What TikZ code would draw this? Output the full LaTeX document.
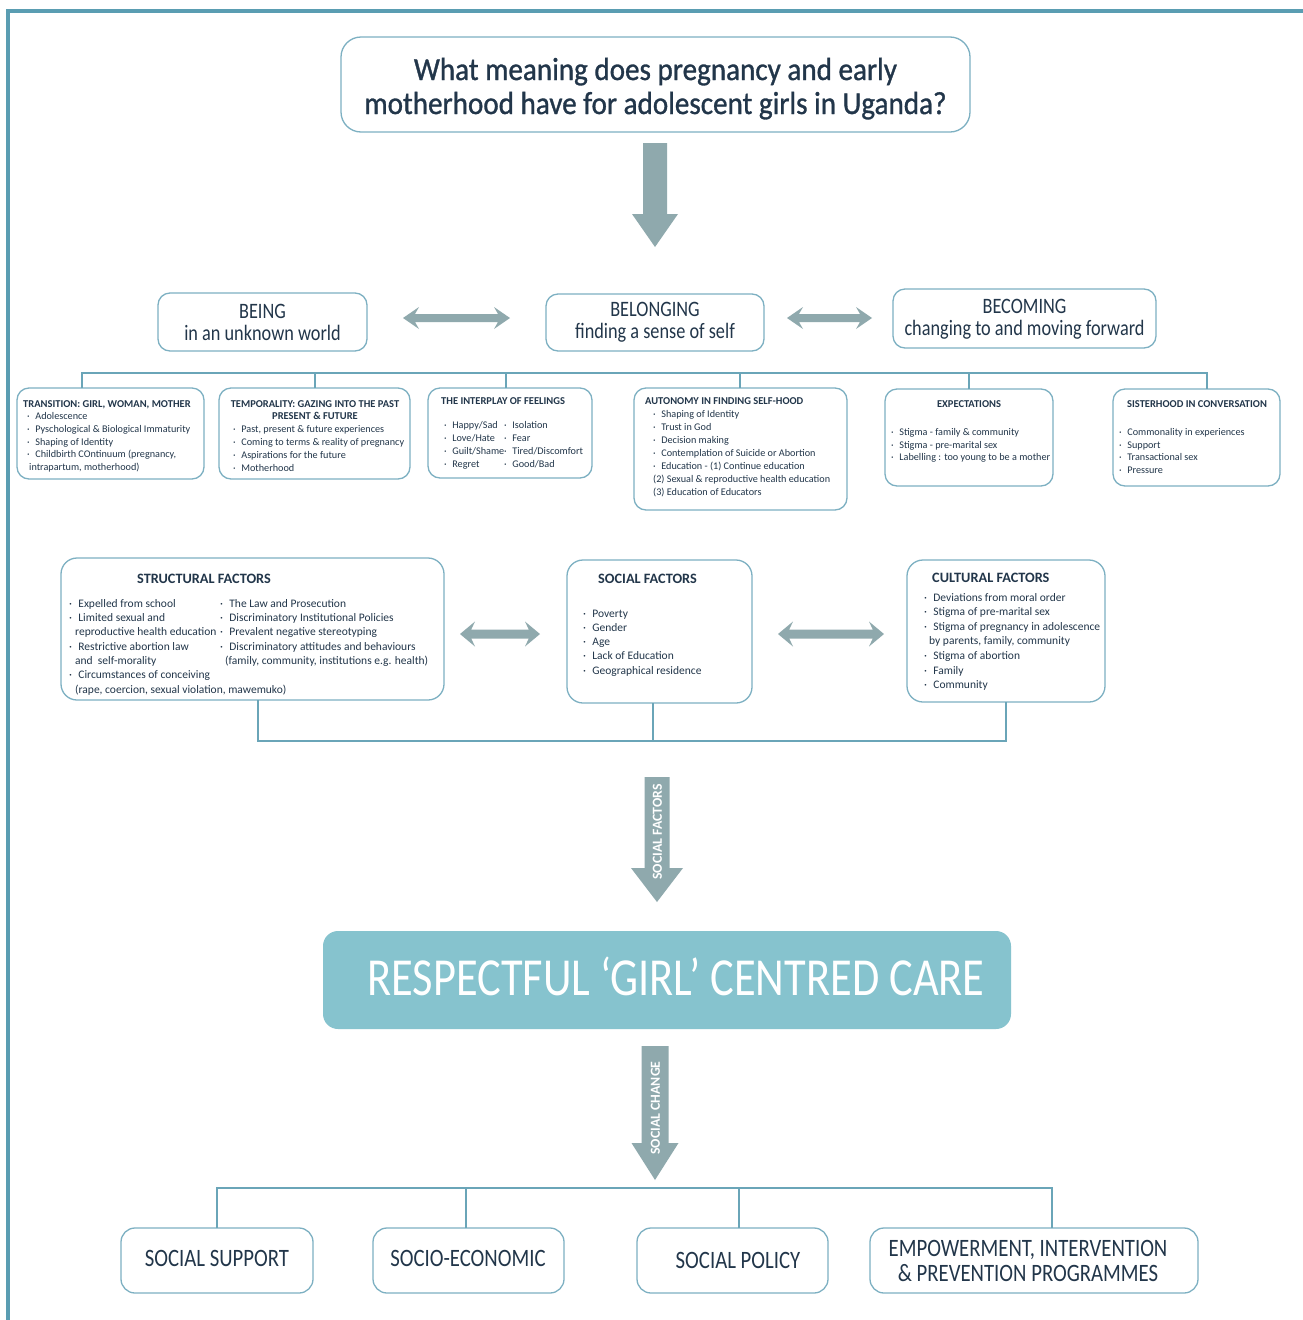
\documentclass[tikz,border=0pt]{standalone}
\usepackage{fontspec}
\setmainfont{Carlito}
\newfontfamily\condf[FakeStretch=0.83]{Carlito}
\newfontfamily\qfont[FakeStretch=0.91,FakeBold=1]{Carlito}
\definecolor{ink}{HTML}{22364A}
\definecolor{frameblue}{HTML}{5A9DB2}
\definecolor{edge}{HTML}{7DB0C2}
\definecolor{linkc}{HTML}{6AA5B8}
\definecolor{arrowgrey}{HTML}{8FA9AD}
\definecolor{banner}{HTML}{86C3CE}

% stacked lines: left aligned / centred, baseline = first line
\newcommand\lines[1]{\vtop{\halign{##\hfil\cr#1\crcr}}}
\newcommand\clines[1]{\vtop{\halign{\hfil##\hfil\cr#1\crcr}}}
\newcommand\itm{\makebox[0.8em][l]{·}}

% rounded panel from its corners
\newcommand\mkbox[6][]{\node[box,#1,minimum width={(#5-#3)*1pt},minimum height={(#6-#4)*1pt}] (#2) at ({(#3+#5)/2},{(#4+#6)/2}) {};}
% block arrow pointing down: centre x, top, head base, tip, half shaft, half head
\newcommand\downblk[6]{\fill[arrowgrey] ({#1-#5},#2) -- ({#1+#5},#2) -- ({#1+#5},#3) -- ({#1+#6},#3) -- (#1,#4) -- ({#1-#6},#3) -- ({#1-#5},#3) -- cycle;}
% double-headed block arrow: left x, right x, y, head length, half head, half shaft
\newcommand\twoblk[6]{\fill[arrowgrey] (#1,#3) -- ({#1+#4},{#3-#5}) -- ({#1+0.75*#4},{#3-#6}) -- ({#2-0.75*#4},{#3-#6}) -- ({#2-#4},{#3-#5}) -- (#2,#3) -- ({#2-#4},{#3+#5}) -- ({#2-0.75*#4},{#3+#6}) -- ({#1+0.75*#4},{#3+#6}) -- ({#1+#4},{#3+#5}) -- cycle;}

\tikzset{
  box/.style={draw=edge, line width=1.3pt, rounded corners=12pt, inner sep=0pt},
  link/.style={draw=linkc, line width=1.1pt},
  txt/.style={inner sep=0pt, text=ink},
  lst/.style={txt, anchor=base west},
  ttl/.style={txt, font=\bfseries\fontsize{10.5}{12}\selectfont},
  small/.style={font=\fontsize{10.2}{#1}\selectfont},
  mid/.style={font=\fontsize{11.5}{#1}\selectfont},
  fhead/.style={txt, font=\bfseries\fontsize{14.3}{16}\selectfont},
  headc/.style={txt, anchor=base, font=\condf\fontsize{22}{22}\selectfont},
  tail/.style={txt, anchor=base, font=\condf\fontsize{25}{25}\selectfont},
  onarrow/.style={inner sep=0pt, text=white, rotate=90, font=\bfseries\fontsize{13.8}{14}\selectfont}
}

\begin{document}
\begin{tikzpicture}[x=1pt,y=-1pt]
\useasboundingbox (0,0) rectangle (1303,1320);
\fill[white] (0,0) rectangle (1303,1320);

% page frame
\draw[frameblue, line width=4pt] (8,1320) -- (8,11) -- (1303,11);

% question
\mkbox[rounded corners=20pt]{q}{341}{37}{970}{132}
\node[txt, anchor=base, font=\qfont\fontsize{32}{34}\selectfont] (qt) at (655.5,80)
  {\clines{What meaning does pregnancy and early\cr motherhood have for adolescent girls in Uganda?}};
\downblk{655}{143}{214}{247}{12}{23}

% three themes
\mkbox{be}{158}{293}{367}{351}
\mkbox{bl}{546}{294}{764}{351}
\mkbox{bc}{893}{289}{1156}{348}
\node[headc] (bet) at (262.5,318) {\clines{BEING\cr in an unknown world}};
\node[headc] (blt) at (655,316) {\clines{BELONGING\cr finding a sense of self}};
\node[headc] (bct) at (1024.5,313) {\clines{BECOMING\cr changing to and moving forward}};
\twoblk{403}{510}{318}{16}{11}{4}
\twoblk{787}{872}{318}{16}{11}{4}

% sub-themes
\mkbox{t1}{17}{388}{204}{479}
\mkbox{t2}{219}{388}{410}{479}
\mkbox{t3}{428}{388}{592}{478}
\mkbox{t4}{634}{388}{847}{510}
\mkbox{t5}{885}{389}{1053}{486}
\mkbox{t6}{1113}{389}{1280}{486}

\coordinate (d1) at (82,388);
\coordinate (d2) at (315,388);
\coordinate (d3) at (506,388);
\coordinate (d4) at (740,388);
\coordinate (d5) at (969,389);
\coordinate (d6) at (1207,389);
\coordinate (busy) at (0,373);
\draw[link] (d1) -- (d1 |- busy) -- (d6 |- busy) -- (d6);
\foreach \d in {d2,d3,d4,d5} \draw[link] (\d) -- (\d |- busy);

\node[ttl, anchor=base west] (t1h) at (23,407) {TRANSITION: GIRL, WOMAN, MOTHER};
\node[lst, small=12.8] (t1l) at (27,419.5) {\lines{\itm Adolescence\cr
  \itm Pyschological \& Biological Immaturity\cr
  \itm Shaping of Identity\cr
  \itm Childbirth COntinuum (pregnancy,\cr
  \hspace*{2pt}intrapartum, motherhood)}};

\node[ttl, anchor=base] (t2h) at (315,407) {\clines{TEMPORALITY: GAZING INTO THE PAST\cr PRESENT \& FUTURE}};
\node[lst, small=13] (t2l) at (233,432.5) {\lines{\itm Past, present \& future experiences\cr
  \itm Coming to terms \& reality of pregnancy\cr
  \itm Aspirations for the future\cr
  \itm Motherhood}};

\node[ttl, anchor=base west] (t3h) at (441,404) {THE INTERPLAY OF FEELINGS};
\node[lst, small=13] (t3a) at (444,428.5) {\lines{\itm Happy/Sad\cr \itm Love/Hate\cr \itm Guilt/Shame\cr \itm Regret}};
\node[lst, small=13] (t3b) at (504,428.5) {\lines{\itm Isolation\cr \itm Fear\cr \itm Tired/Discomfort\cr \itm Good/Bad}};

\node[ttl, anchor=base west] (t4h) at (645,404) {AUTONOMY IN FINDING SELF-HOOD};
\node[lst, small=13] (t4l) at (653,417.5) {\lines{\itm Shaping of Identity\cr
  \itm Trust in God\cr
  \itm Decision making\cr
  \itm Contemplation of Suicide or Abortion\cr
  \itm Education - (1) Continue education\cr
  (2) Sexual \& reproductive health education\cr
  (3) Education of Educators}};

\node[ttl, anchor=base] (t5h) at (969,407) {EXPECTATIONS};
\node[lst, small=12.6] (t5l) at (891,435.5) {\lines{\itm Stigma - family \& community\cr
  \itm Stigma - pre-marital sex\cr
  \itm Labelling : too young to be a mother}};

\node[ttl, anchor=base] (t6h) at (1197,407) {SISTERHOOD IN CONVERSATION};
\node[lst, small=12.7] (t6l) at (1119,435.5) {\lines{\itm Commonality in experiences\cr
  \itm Support\cr
  \itm Transactional sex\cr
  \itm Pressure}};

% factors
\mkbox[rounded corners=16pt]{sb}{61}{558}{444}{700}
\mkbox[rounded corners=16pt]{so}{567}{560}{752}{703}
\mkbox[rounded corners=16pt]{cu}{907}{560}{1105}{702}
\twoblk{460}{540}{634}{15}{12.5}{4.5}
\twoblk{778}{884}{634}{15}{12.5}{4.5}

\node[fhead, anchor=base] (sbh) at (204,583) {STRUCTURAL FACTORS};
\node[lst, mid=14.35] (sba) at (69,607) {\lines{\itm Expelled from school\cr
  \itm Limited sexual and\cr
  \hspace*{6pt}reproductive health education\cr
  \itm Restrictive abortion law\cr
  \hspace*{6pt}and\ \ self-morality\cr
  \itm Circumstances of conceiving\cr
  \hspace*{6pt}(rape, coercion, sexual violation, mawemuko)}};
\node[lst, mid=14.35] (sbb) at (220,607) {\lines{\itm The Law and Prosecution\cr
  \itm Discriminatory Institutional Policies\cr
  \itm Prevalent negative stereotyping\cr
  \itm Discriminatory attitudes and behaviours\cr
  \hspace*{5pt}(family, community, institutions e.g. health)}};

\node[fhead, anchor=base west] (soh) at (598,583) {SOCIAL FACTORS};
\node[lst, mid=14.25] (sol) at (583,617) {\lines{\itm Poverty\cr \itm Gender\cr \itm Age\cr \itm Lack of Education\cr \itm Geographical residence}};

\node[fhead, anchor=base west] (cuh) at (932,582) {CULTURAL FACTORS};
\node[lst, mid=14.65] (cul) at (924,601) {\lines{\itm Deviations from moral order\cr
  \itm Stigma of pre-marital sex\cr
  \itm Stigma of pregnancy in adolescence\cr
  \hspace*{5pt}by parents, family, community\cr
  \itm Stigma of abortion\cr
  \itm Family\cr
  \itm Community}};

\coordinate (c1) at (258,700);
\coordinate (c2) at (653,703);
\coordinate (c3) at (1006,702);
\coordinate (joiny) at (0,741);
\draw[link] (c1) -- (c1 |- joiny) -- (c3 |- joiny) -- (c3);
\draw[link] (c2) -- (c2 |- joiny);

\downblk{657}{777}{868}{902}{12.5}{26}
\node[onarrow] (sfa) at (657.5,832) {SOCIAL FACTORS};

% central aim
\node[fill=banner, rounded corners=15pt, minimum width=688pt, minimum height=98pt, inner sep=0pt] (bn) at (667,980) {};
\node[inner sep=0pt, anchor=base, text=white, font=\condf\fontsize{53.5}{56}\selectfont] (bnt) at (676,995) {RESPECTFUL ‘GIRL’ CENTRED CARE};

\downblk{655}{1046}{1143}{1180}{13.5}{23.5}
\node[onarrow] (sca) at (655.5,1108) {SOCIAL CHANGE};

% outcomes
\mkbox[rounded corners=14pt]{p1}{121}{1228}{313}{1293}
\mkbox[rounded corners=14pt]{p2}{373}{1228}{564}{1293}
\mkbox[rounded corners=14pt]{p3}{637}{1228}{828}{1293}
\mkbox[rounded corners=14pt]{p4}{870}{1228}{1198}{1293}
\coordinate (k1) at (217,1228);
\coordinate (k2) at (466,1228);
\coordinate (k3) at (739,1228);
\coordinate (k4) at (1052,1228);
\coordinate (outy) at (0,1188);
\draw[link] (k1) -- (k1 |- outy) -- (k4 |- outy) -- (k4);
\foreach \k in {k2,k3} \draw[link] (\k) -- (\k |- outy);

\node[tail] (p1t) at (217,1266) {SOCIAL SUPPORT};
\node[tail] (p2t) at (468,1266) {SOCIO-ECONOMIC};
\node[tail] (p3t) at (738,1268) {SOCIAL POLICY};
\node[tail] (p4t) at (1028,1256) {\clines{EMPOWERMENT, INTERVENTION\cr \& PREVENTION PROGRAMMES}};
\end{tikzpicture}
\end{document}
